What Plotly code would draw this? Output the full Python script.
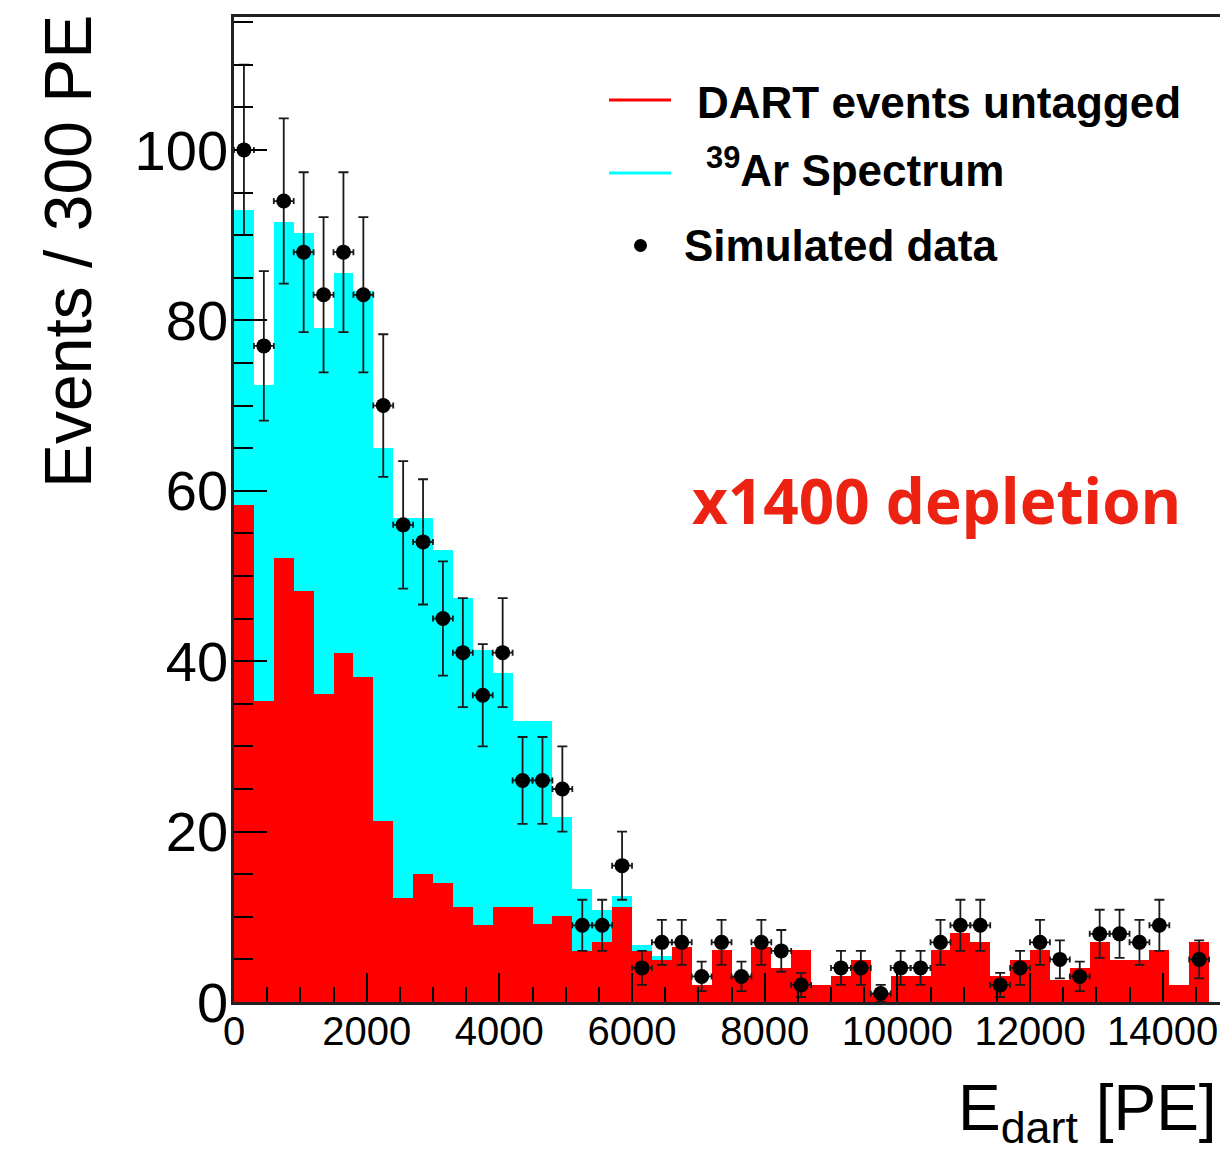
import numpy as np
import plotly.graph_objects as go

# ---------------- data (bins of 300 PE starting at 0) ----------------
BIN_WIDTH = 300

ar39_total = [93.0, 72.4, 91.5, 90.2, 79.1, 85.5, 83.5, 65.0, 56.8, 56.8,
              53.0, 47.4, 41.3, 38.6, 33.0, 33.0, 21.7, 13.3, 10.8, 12.4,
              6.7, 5.4, 6.5, 2.0, 6.1, 3.0, 6.5, 4.0, 6.1, 2.0,
              3.0, 4.9, 1.0, 3.0, 3.0, 6.1, 8.1, 7.1, 3.0, 4.9,
              6.1, 2.6, 4.0, 7.1, 4.9, 4.9, 6.1, 2.0, 7.1]

dart_untagged = [58.3, 35.3, 52.1, 48.2, 36.2, 41.0, 38.1, 21.3, 12.2, 15.0,
                 14.0, 11.2, 9.0, 11.1, 11.1, 9.1, 10.1, 6.0, 7.0, 11.1,
                 6.0, 4.9, 6.5, 2.0, 6.1, 3.0, 6.5, 4.0, 6.1, 2.0,
                 3.0, 4.9, 1.0, 3.0, 3.0, 6.1, 8.1, 7.1, 3.0, 4.9,
                 6.1, 2.6, 4.0, 7.1, 4.9, 4.9, 6.1, 2.0, 7.1]

simulated = [100, 77, 94, 88, 83, 88, 83, 70, 56, 54,
             45, 41, 36, 41, 26, 26, 25, 9, 9, 16,
             4, 7, 7, 3, 7, 3, 7, 6, 2, 0,
             4, 4, 1, 4, 4, 7, 9, 9, 2, 4,
             7, 5, 3, 8, 8, 7, 9, 0, 5]

x_tickvals = [0, 2000, 4000, 6000, 8000, 10000, 12000, 14000]
x_ticktext = ["0", "2000", "4000", "6000", "8000", "10000", "12000", "14000"]
y_tickvals = [0, 20, 40, 60, 80, 100]
y_ticktext = ["0", "20", "40", "60", "80", "100"]

# ---------------- derived ----------------
n = len(simulated)
centers = BIN_WIDTH * (np.arange(n) + 0.5)
data_y = [v if v > 0 else None for v in simulated]
data_err = [np.sqrt(v) if v > 0 else None for v in simulated]

# plot area geometry (pixels)
W, H = 1220, 1152
L, T, B = 234, 17, 150
PW, PH = W - L, H - T - B


def px(x):
    return (x - L) / PW


def py(y):
    return (T + PH - y) / PH


fig = go.Figure()

fig.add_trace(go.Bar(
    x=centers, y=ar39_total, width=BIN_WIDTH,
    marker=dict(color="#00ffff", line=dict(width=0)),
    showlegend=False, name="39Ar Spectrum"))

fig.add_trace(go.Bar(
    x=centers, y=dart_untagged, width=BIN_WIDTH,
    marker=dict(color="#ff0000", line=dict(width=0)),
    showlegend=False, name="DART events untagged"))

fig.add_trace(go.Scatter(
    x=centers, y=data_y, mode="markers",
    marker=dict(color="black", size=15, symbol="circle"),
    error_y=dict(type="data", array=data_err, visible=True,
                 color="#1a1a1a", thickness=1.8, width=5),
    error_x=dict(type="constant", value=BIN_WIDTH / 2, visible=True,
                 color="#1a1a1a", thickness=1.8, width=3),
    showlegend=False, name="Simulated data"))

tick_font = "Liberation Sans, Arial, Helvetica, sans-serif"

fig.update_layout(
    width=W, height=H,
    margin=dict(l=L, r=0, t=T, b=B, pad=0),
    paper_bgcolor="white", plot_bgcolor="white",
    barmode="overlay", bargap=0,
    showlegend=False,
    xaxis=dict(
        range=[0, 14864], showgrid=False, zeroline=False,
        showline=True, linecolor="#222", linewidth=2.5, mirror=True,
        tickmode="array", tickvals=x_tickvals, ticktext=x_ticktext,
        ticks="inside", ticklen=29, tickwidth=1.6, tickcolor="black",
        minor=dict(dtick=500, tick0=0, ticks="inside", ticklen=15,
                   tickwidth=1.6, tickcolor="black", showgrid=False),
        tickfont=dict(family=tick_font, size=40, color="black"),
        ticklabelstandoff=-8,
    ),
    yaxis=dict(
        range=[0, 115.6], showgrid=False, zeroline=False,
        showline=True, linecolor="#222", linewidth=2.5, mirror=False,
        tickmode="array", tickvals=y_tickvals, ticktext=y_ticktext,
        ticks="inside", ticklen=33, tickwidth=1.6, tickcolor="black",
        minor=dict(dtick=5, tick0=0, ticks="inside", ticklen=19,
                   tickwidth=1.6, tickcolor="black", showgrid=False),
        tickfont=dict(family=tick_font, size=56, color="black"),
        ticklabelstandoff=-8,
    ),
)

annotations = []
# y-axis title
annotations.append(dict(
    x=px(68), y=py(252), xref="paper", yref="paper",
    text="Events / 300 PE", textangle=-90, showarrow=False,
    xanchor="center", yanchor="middle",
    font=dict(family=tick_font, size=66, color="black")))
# x-axis title
annotations.append(dict(
    x=px(1219), y=py(1112), xref="paper", yref="paper",
    text="E<sub>dart</sub> [PE]", showarrow=False,
    xanchor="right", yanchor="middle",
    font=dict(family=tick_font, size=64, color="black")))
# legend texts
legend_font = dict(family=tick_font, size=44, color="black")
annotations.append(dict(
    x=px(695), y=py(102), xref="paper", yref="paper",
    text="<b>DART events untagged</b>", showarrow=False,
    xanchor="left", yanchor="middle", font=legend_font))
annotations.append(dict(
    x=px(704), y=py(168), xref="paper", yref="paper",
    text="<b><sup>39</sup>Ar Spectrum</b>", showarrow=False,
    xanchor="left", yanchor="middle", font=legend_font))
annotations.append(dict(
    x=px(682), y=py(246), xref="paper", yref="paper",
    text="<b>Simulated data</b>", showarrow=False,
    xanchor="left", yanchor="middle", font=legend_font))
# depletion label
annotations.append(dict(
    x=px(690), y=py(500), xref="paper", yref="paper",
    text="<b>x1400 depletion</b>", showarrow=False,
    xanchor="left", yanchor="middle",
    font=dict(family="Open Sans, Noto Sans, sans-serif", size=62, color="#ec2313")))

fig.update_layout(annotations=annotations)

shapes = [
    dict(type="line", xref="paper", yref="paper",
         x0=px(609), x1=px(671), y0=py(100), y1=py(100),
         line=dict(color="#ff0000", width=3)),
    dict(type="line", xref="paper", yref="paper",
         x0=px(609), x1=px(671), y0=py(173), y1=py(173),
         line=dict(color="#00ffff", width=3)),
    dict(type="circle", xref="paper", yref="paper",
         x0=px(634), x1=px(647), y0=py(239), y1=py(252),
         fillcolor="black", line=dict(color="black", width=0)),
]
fig.update_layout(shapes=shapes)

fig.write_html("out.html")
